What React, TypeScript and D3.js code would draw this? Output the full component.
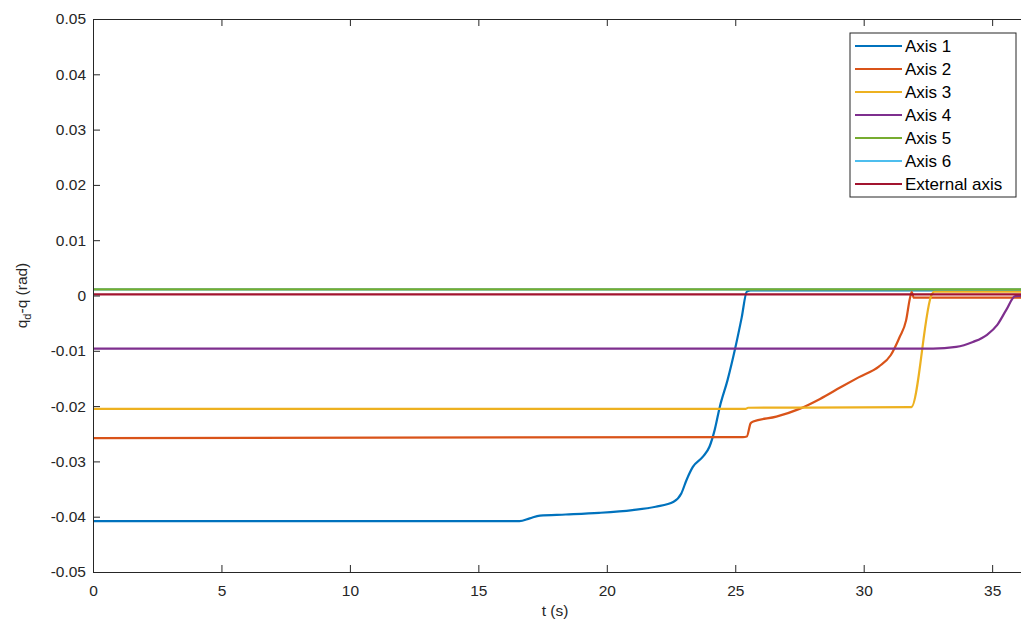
import { useRef, useEffect } from "react";
import * as d3 from "d3";

type Pt = [number, number];

// [t (s), qd - q (rad)]
const axis1: Pt[] = [
  [0, -0.0408], [16.6, -0.0408], [17.0, -0.0403], [17.4, -0.0398], [18.4, -0.0396],
  [19.7, -0.0393], [21.0, -0.0388], [21.9, -0.0382], [22.6, -0.0373], [22.9, -0.0358],
  [23.1, -0.0334], [23.35, -0.031], [23.75, -0.0291], [24.0, -0.0273], [24.2, -0.0243],
  [24.4, -0.0201], [24.7, -0.0153], [25.0, -0.0095], [25.25, -0.004], [25.45, 0.0007],
  [25.6, 0.0009], [40, 0.0009],
];
const axis2: Pt[] = [
  [0, -0.0258], [25.3, -0.0256], [25.45, -0.0255], [25.6, -0.0231], [25.7, -0.0228],
  [26.6, -0.0219], [27.5, -0.0205], [28.3, -0.0187], [29.1, -0.0166], [29.8, -0.0148],
  [30.6, -0.0128], [31.05, -0.0108], [31.4, -0.0075], [31.65, -0.0045], [31.8, -0.0005],
  [31.87, 0.0006], [31.95, -0.0004], [40, -0.0004],
];
const axis3: Pt[] = [
  [0, -0.0205], [25.4, -0.0205], [25.5, -0.0203], [31.85, -0.0202], [32.65, 0.0002],
  [32.75, 0.0007], [40, 0.0007],
];
const axis4: Pt[] = [
  [0, -0.0096], [32.7, -0.0096], [33.6, -0.0093], [34.25, -0.0084], [34.8, -0.0071],
  [35.2, -0.0053], [35.55, -0.0026], [35.9, -0.0001], [40, 0],
];
const axis5: Pt[] = [[0, 0.0011], [40, 0.0011]];
const axis6: Pt[] = [[0, 0.0011], [40, 0.0011]];
const external: Pt[] = [[0, 0.0002], [40, 0.0002]];

const seriesNames = ["Axis 1", "Axis 2", "Axis 3", "Axis 4", "Axis 5", "Axis 6", "External axis"];
const seriesData = [axis1, axis2, axis3, axis4, axis5, axis6, external];
const colors = ["#0072BD", "#D95319", "#EDB120", "#7E2F8E", "#77AC30", "#4DBEEE", "#A2142F"];
// Axis 6 queda oculto bajo Axis 5
const drawOrder = [0, 1, 2, 3, 5, 4, 6];

const xTicks = [0, 5, 10, 15, 20, 25, 30, 35];
const yTicks = [0.05, 0.04, 0.03, 0.02, 0.01, 0, -0.01, -0.02, -0.03, -0.04, -0.05];

export default function App() {
  const svgRef = useRef<SVGSVGElement>(null);

  useEffect(() => {
    const svg = d3.select(svgRef.current);
    svg.selectAll("*").remove();

    const width = 1021;
    const height = 623;
    const left = 93;
    const top = 19;
    const bottom = 572;
    const pxPerSec = 25.69;
    const font = "'Liberation Sans', Arial, Helvetica, sans-serif";
    const ink = "#262626";

    svg.attr("width", width).attr("height", height);

    const x = d3.scaleLinear().domain([0, 40]).range([left, left + 40 * pxPerSec]);
    const y = d3.scaleLinear().domain([-0.05, 0.05]).range([bottom, top]);

    // fondo
    svg.append("rect").attr("width", width).attr("height", height).attr("fill", "white");

    // líneas
    const line = d3
      .line<Pt>()
      .x((d) => x(d[0]))
      .y((d) => y(d[1]))
      .curve(d3.curveMonotoneX);

    drawOrder.forEach((i) => {
      svg
        .append("path")
        .datum(seriesData[i])
        .attr("d", line)
        .attr("fill", "none")
        .attr("stroke", colors[i])
        .attr("stroke-width", 2.2);
    });

    // ejes
    const fmt = (d: number) => (d === 0 ? "0" : d.toFixed(2));

    const yAxis = svg
      .append("g")
      .attr("transform", `translate(${left},0)`)
      .call(d3.axisLeft(y).tickValues(yTicks).tickSizeInner(-7).tickSizeOuter(0).tickPadding(7).tickFormat((d) => fmt(+d)));
    yAxis.select(".domain").attr("stroke", ink);
    yAxis.selectAll("line").attr("stroke", ink);
    yAxis.selectAll("text").attr("fill", ink).attr("font-family", font).attr("font-size", 15.5);

    const xAxis = svg
      .append("g")
      .attr("transform", `translate(0,${bottom})`)
      .call(d3.axisBottom(x).tickValues(xTicks).tickSizeInner(-7).tickSizeOuter(0).tickPadding(13).tickFormat((d) => String(d)));
    xAxis.select(".domain").attr("stroke", ink);
    xAxis.selectAll("line").attr("stroke", ink);
    xAxis.selectAll("text").attr("fill", ink).attr("font-family", font).attr("font-size", 15.5);

    const topAxis = svg
      .append("g")
      .attr("transform", `translate(0,${top})`)
      .call(d3.axisTop(x).tickValues(xTicks).tickSizeInner(-7).tickSizeOuter(0).tickFormat(() => ""));
    topAxis.select(".domain").attr("stroke", ink);
    topAxis.selectAll("line").attr("stroke", ink);

    // etiquetas de ejes
    svg
      .append("text")
      .attr("x", 555)
      .attr("y", 616)
      .attr("text-anchor", "middle")
      .attr("font-family", font)
      .attr("font-size", 15.5)
      .attr("fill", ink)
      .text("t (s)");

    const yl = svg
      .append("text")
      .attr("transform", `translate(27,${(top + bottom) / 2}) rotate(-90)`)
      .attr("text-anchor", "middle")
      .attr("font-family", font)
      .attr("font-size", 15.5)
      .attr("fill", ink);
    yl.append("tspan").text("q");
    yl.append("tspan").attr("font-size", 11).attr("dy", 4).text("d");
    yl.append("tspan").attr("dy", -4).text("-q (rad)");

    // leyenda
    const legend = svg.append("g").attr("transform", "translate(850,33)");
    legend
      .append("rect")
      .attr("width", 166)
      .attr("height", 164)
      .attr("fill", "white")
      .attr("stroke", ink)
      .attr("stroke-width", 1);

    seriesNames.forEach((name, i) => {
      const row = legend.append("g").attr("transform", `translate(0,${13 + i * 23})`);
      row
        .append("line")
        .attr("x1", 5)
        .attr("x2", 52)
        .attr("y1", 0)
        .attr("y2", 0)
        .attr("stroke", colors[i])
        .attr("stroke-width", 2.2);
      row
        .append("text")
        .attr("x", 55)
        .attr("y", 0)
        .attr("dy", "0.35em")
        .attr("font-family", font)
        .attr("font-size", 17)
        .attr("fill", "#000")
        .text(name);
    });
  }, []);

  return <svg ref={svgRef} style={{ position: "absolute", left: 0, top: 0, display: "block" }}></svg>;
}
